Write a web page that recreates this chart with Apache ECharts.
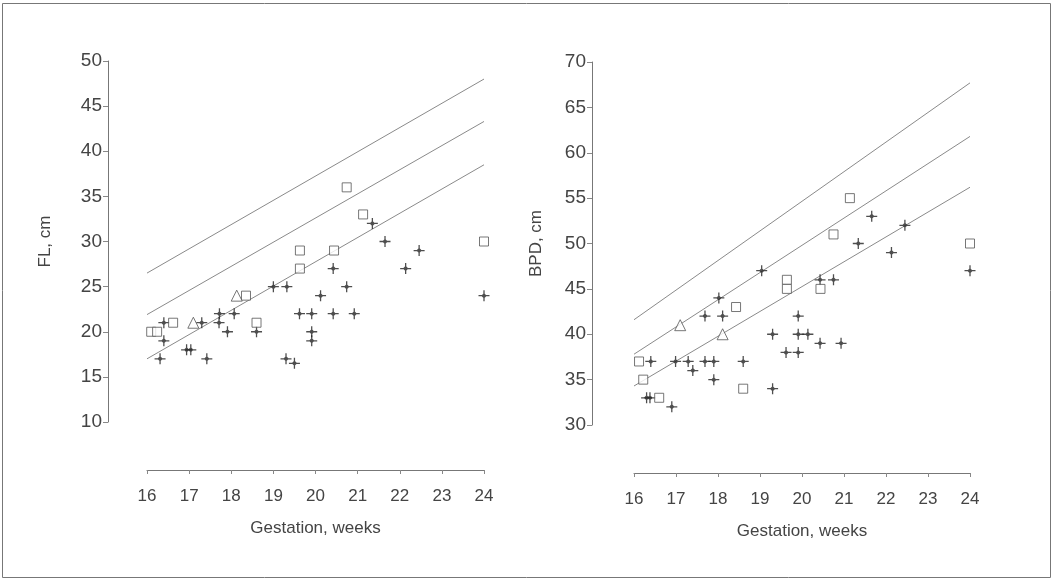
<!DOCTYPE html>
<html>
<head>
    <meta charset="utf-8">
    <title>FL and BPD by gestation</title>
    <script src="https://cdn.jsdelivr.net/npm/echarts@6/dist/echarts.min.js"></script>
</head>
<body style="margin:0;background:#fff;">
<div id="main" style="width: 1064px;height:583px;"></div>

<script type="text/javascript">

    // FL panel (weeks, cm)
    var flStars = [
        [21.35, 32], [21.65, 30], [22.46, 29], [20.42, 27], [22.14, 27],
        [19.0, 25], [19.32, 25], [20.74, 25], [20.12, 24], [24.0, 24],
        [19.62, 22], [19.91, 22], [20.42, 22], [20.92, 22], [17.72, 22], [18.07, 22],
        [16.4, 21], [17.3, 21], [17.71, 21],
        [17.91, 20], [18.6, 20], [19.91, 20], [19.91, 19], [16.4, 19],
        [16.94, 18], [17.04, 18],
        [16.31, 17], [17.42, 17], [19.3, 17], [19.5, 16.5]
    ];
    var flSquares = [
        [20.74, 36], [21.13, 33], [24.0, 30], [19.63, 29], [20.44, 29],
        [19.63, 27], [18.35, 24], [18.6, 21], [16.62, 21], [16.1, 20], [16.24, 20]
    ];
    var flTriangles = [[18.13, 24], [17.1, 21]];
    var flUpper = [[16, 26.5], [24, 48]];
    var flMiddle = [[16, 21.9], [24, 43.3]];
    var flLower = [[16, 17], [24, 38.5]];

    // BPD panel
    var bpdStars = [
        [21.66, 53], [22.45, 52], [21.34, 50], [22.13, 49], [24.0, 47], [19.04, 47],
        [20.43, 46], [20.75, 46], [18.02, 44], [17.69, 42], [18.11, 42], [19.91, 42],
        [19.3, 40], [19.91, 40], [20.14, 40], [20.43, 39], [20.93, 39],
        [19.62, 38], [19.91, 38],
        [16.4, 37], [16.99, 37], [17.29, 37], [17.69, 37], [17.9, 37], [18.6, 37],
        [17.4, 36], [17.9, 35], [19.3, 34], [16.3, 33], [16.38, 33], [16.9, 32]
    ];
    var bpdSquares = [
        [21.14, 55], [20.75, 51], [24.0, 50], [19.64, 46], [19.64, 45], [20.44, 45],
        [18.43, 43], [16.12, 37], [16.22, 35], [16.6, 33], [18.6, 34]
    ];
    var bpdTriangles = [[17.1, 41], [18.11, 40]];
    var bpdUpper = [[16, 41.6], [24, 67.7]];
    var bpdMiddle = [[16, 37.8], [24, 61.8]];
    var bpdLower = [[16, 34.3], [24, 56.2]];

    // asterisk: long plus, short diagonals, dark centre
    var starPath = 'path://M-6,-0.7 L6,-0.7 L6,0.7 L-6,0.7 Z M-0.7,-6 L0.7,-6 L0.7,6 L-0.7,6 Z ' +
        'M0,-3 L3,0 L0,3 L-3,0 Z';
    var textColor = '#444';
    var font = 'Liberation Sans';

    function xAxisFor(gridIndex) {
        return {
            gridIndex: gridIndex,
            type: 'value',
            min: 16, max: 24, interval: 1,
            offset: 48,
            name: 'Gestation, weeks',
            nameLocation: 'middle',
            nameGap: 50,
            nameTextStyle: { color: textColor, fontSize: 17, fontFamily: font },
            axisLine: { lineStyle: { color: '#777', width: 1 } },
            axisTick: { length: 4, lineStyle: { color: '#888' } },
            axisLabel: { color: textColor, fontSize: 17, fontFamily: font, margin: 18 },
            splitLine: { show: false }
        };
    }

    function yAxisFor(gridIndex, min, max, name, offset, gap) {
        return {
            gridIndex: gridIndex,
            type: 'value',
            min: min, max: max, interval: 5,
            offset: offset,
            name: name,
            nameLocation: 'middle',
            nameGap: gap,
            nameTextStyle: { color: textColor, fontSize: 17, fontFamily: font },
            axisLine: { show: true, lineStyle: { color: '#777', width: 1 } },
            axisTick: { show: true, length: 5, lineStyle: { color: '#888' } },
            axisLabel: { color: textColor, fontSize: 19, fontFamily: font, margin: 6 },
            splitLine: { show: false }
        };
    }

    function refLine(idx, data) {
        return {
            type: 'line', xAxisIndex: idx, yAxisIndex: idx,
            data: data, symbol: 'none', silent: true, z: 1,
            lineStyle: { color: '#8a8a8a', width: 1 }
        };
    }

    function points(idx, data, kind) {
        var s = {
            type: 'scatter', xAxisIndex: idx, yAxisIndex: idx, data: data, z: 3,
            silent: true
        };
        if (kind === 'star') {
            s.symbol = starPath;
            s.symbolSize = 11;
            s.itemStyle = { color: '#222' };
        } else if (kind === 'square') {
            s.symbol = 'rect';
            s.symbolSize = 9;
            s.itemStyle = { color: '#fff', borderColor: '#555', borderWidth: 1 };
        } else {
            s.symbol = 'triangle';
            s.symbolSize = 11;
            s.itemStyle = { color: '#fff', borderColor: '#555', borderWidth: 1 };
        }
        return s;
    }

    var myChart = echarts.init(document.getElementById('main'));

    option = {
        backgroundColor: '#fff',
        animation: false,
        graphic: [{
            type: 'rect',
            shape: { x: 2.5, y: 3.5, width: 1048, height: 574 },
            style: { fill: 'none', stroke: '#777', lineWidth: 1 }
        }],
        grid: [
            { left: 147, right: 580, top: 61, bottom: 161 },
            { left: 634, right: 94, top: 62, bottom: 158 }
        ],
        xAxis: [xAxisFor(0), xAxisFor(1)],
        yAxis: [
            yAxisFor(0, 10, 50, 'FL, cm', 39, 54),
            yAxisFor(1, 30, 70, 'BPD, cm', 42, 47)
        ],
        series: [
            refLine(0, flUpper), refLine(0, flMiddle), refLine(0, flLower),
            points(0, flStars, 'star'), points(0, flSquares, 'square'), points(0, flTriangles, 'triangle'),
            refLine(1, bpdUpper), refLine(1, bpdMiddle), refLine(1, bpdLower),
            points(1, bpdStars, 'star'), points(1, bpdSquares, 'square'), points(1, bpdTriangles, 'triangle')
        ]
    };

    myChart.setOption(option);
</script>
</body>
</html>
